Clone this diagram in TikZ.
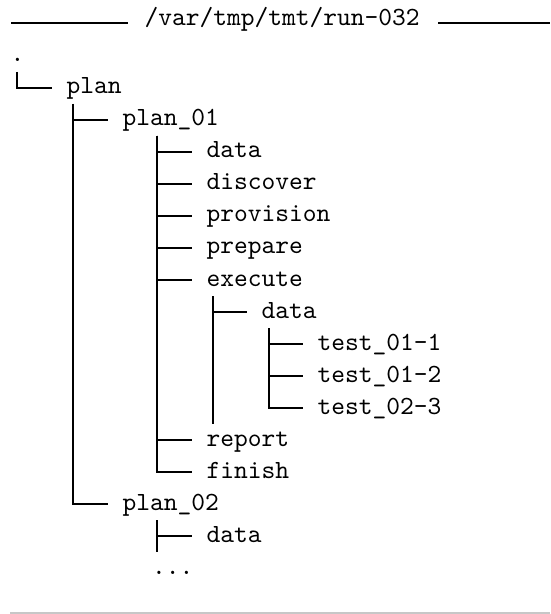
\documentclass[tikz,border=0pt]{standalone}
\usetikzlibrary{calc}
\begin{document}
\begin{tikzpicture}[x=0.5pt,y=-0.5pt]
\tikzset{
  lbl/.style={anchor=base west, inner sep=0pt, text height=6.1pt, text depth=1.5pt,
    scale=1.31, transform shape,
    font=\fontsize{10pt}{12pt}\selectfont\ttfamily},
  tree/.style={line width=0.75pt, line join=miter, black},
  rule/.style={line width=0.6pt, black},
  footrule/.style={line width=0.75pt, black!22},
}
\useasboundingbox (0,0) rectangle (550,614);
% header
\node[lbl] (title) at (144,26) {/var/tmp/tmt/run-032};
\coordinate (hlA) at (11,23);
\coordinate (hlB) at (550,23);
\draw[rule] (hlA) -- ($(title.base west)+(-16,-3)$);
\draw[rule] ($(title.base east)+(18,-3)$) -- (hlB);
% labels
\node[lbl] (root) at (10,62) {.};
\node[lbl] (plan) at (66,94) {plan};
\node[lbl] (p1) at (122,126) {plan\_01};
\node[lbl] (p1data) at (206,158) {data};
\node[lbl] (discover) at (206,190) {discover};
\node[lbl] (provision) at (206,222) {provision};
\node[lbl] (prepare) at (206,254) {prepare};
\node[lbl] (execute) at (206,286) {execute};
\node[lbl] (exdata) at (261,318) {data};
\node[lbl] (t1) at (317,350) {test\_01-1};
\node[lbl] (t2) at (317,382) {test\_01-2};
\node[lbl] (t3) at (317,414) {test\_02-3};
\node[lbl] (report) at (206,446) {report};
\node[lbl] (finish) at (206,478) {finish};
\node[lbl] (p2) at (122,510) {plan\_02};
\node[lbl] (p2data) at (206,542) {data};
\node[lbl] (dots) at (151.5,574) {...};
% tree connectors
\coordinate (vR) at (17,72);
\coordinate (vP) at (73,104);
\coordinate (v1) at (157,136);
\coordinate (vE) at (213,296);
\coordinate (eE) at (213,424);
\coordinate (vD) at (269,328);
\coordinate (v2) at (157,520);
\coordinate (e2) at (157,552);
\draw[tree] (vR) |- ([xshift=-7.25pt]plan.west);
\draw[tree] (vP) |- ([xshift=-7.25pt]p1.west);
\draw[tree] (vP) |- ([xshift=-7.25pt]p2.west);
\foreach \c in {p1data,discover,provision,prepare,execute,report,finish}
  \draw[tree] (v1) |- ([xshift=-7.25pt]\c.west);
\draw[tree] (vE) |- ([xshift=-7pt]exdata.west);
\draw[tree] (vE) -- (eE);
\foreach \c in {t1,t2,t3}
  \draw[tree] (vD) |- ([xshift=-7pt]\c.west);
\draw[tree] (v2) |- ([xshift=-7.25pt]p2data.west);
\draw[tree] (v2) -- (e2);
% footer rule
\coordinate (fA) at (10,613);
\coordinate (fB) at (550,613);
\draw[footrule] (fA) -- (fB);
\end{tikzpicture}
\end{document}
